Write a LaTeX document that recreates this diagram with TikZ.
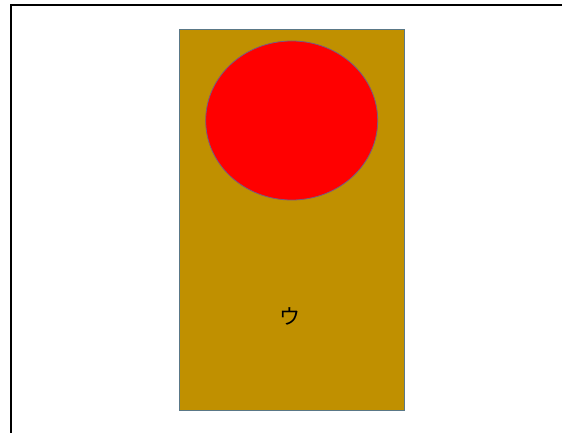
\documentclass[tikz,border=0pt]{standalone}
\usepackage{fontspec}
\newfontfamily\jpfont{Noto Sans CJK JP}
\usetikzlibrary{shapes.geometric}
\definecolor{panelgold}{RGB}{192,144,0}
\definecolor{paneledge}{RGB}{90,120,135}
\definecolor{discedge}{RGB}{120,90,130}
\tikzstyle{panel} = [
    rectangle,
    minimum width=225pt,
    minimum height=380pt,
    fill=panelgold,
    draw=paneledge,
    line width=1pt,
    inner sep=0pt
]
\tikzstyle{disc} = [
    ellipse,
    minimum width=172pt,
    minimum height=159pt,
    fill=red,
    draw=discedge,
    line width=0.8pt,
    inner sep=0pt
]
\tikzstyle{label} = [
    font=\jpfont\fontsize{21}{24}\selectfont,
    inner sep=0pt
]
\begin{document}
\begin{tikzpicture}[x=1pt, y=-1pt]

\useasboundingbox (0,0) rectangle (562,433);

\coordinate (framebl) at (10.5,440);
\coordinate (frametl) at (10.5,5);
\coordinate (frametr) at (570,5);
\draw [line width=2pt] (framebl) -- (frametl) -- (frametr);

\node (panel) [panel] at (291.7,220) {};

\node (disc) [disc] at (291.7,120.5) {};

\node (kana) [label] at (290,316) {ウ};

\end{tikzpicture}
\end{document}
